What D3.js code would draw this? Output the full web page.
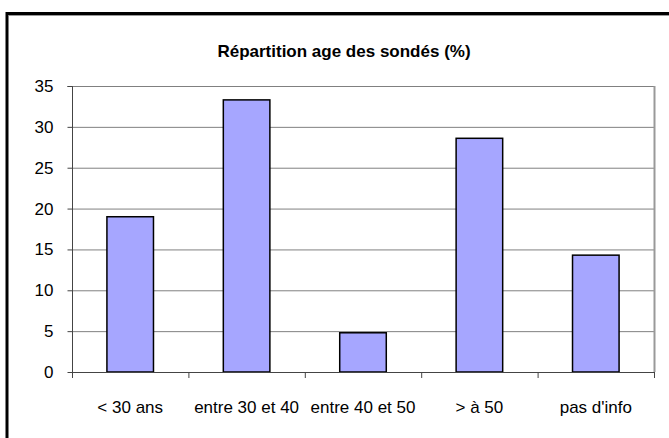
<!DOCTYPE html>
<html>
<head>
<meta charset="utf-8">
<script src="https://cdn.jsdelivr.net/npm/d3@7"></script>
<style>
  body { margin: 0; background: #fff; }
  text { font-family: "Liberation Sans", Arial, sans-serif; fill: #000; }
</style>
</head>
<body>
<div id="chart"></div>
<script>
const width = 669;
const height = 438;

const chartTitle = "Répartition age des sondés (%)";
const categories = ["< 30 ans", "entre 30 et 40", "entre 40 et 50", "> à 50", "pas d'info"];
const values = [19.0, 33.3, 4.8, 28.6, 14.3];
const yTicks = [0, 5, 10, 15, 20, 25, 30, 35];

const plot = { left: 72, right: 654, top: 86, bottom: 372 };

const svg = d3.select("#chart")
    .append("svg")
    .attr("width", width)
    .attr("height", height);

// outer frame (runs off the right and bottom edges)
svg.append("rect")
    .attr("x", 7)
    .attr("y", 13.5)
    .attr("width", 720)
    .attr("height", 500)
    .attr("fill", "none")
    .attr("stroke", "#000")
    .attr("stroke-width", 3);
svg.append("line")
    .attr("x1", 9).attr("x2", width)
    .attr("y1", 15.5).attr("y2", 15.5)
    .attr("stroke", "#999");

svg.append("text")
    .attr("x", 344)
    .attr("y", 57)
    .attr("text-anchor", "middle")
    .attr("font-size", 17)
    .attr("font-weight", "bold")
    .text(chartTitle);

const x = d3.scaleBand()
    .domain(categories)
    .range([plot.left, plot.right])
    .paddingInner(0.6)
    .paddingOuter(0.3);

const xBounds = d3.scaleBand()
    .domain(categories)
    .range([plot.left, plot.right]);

const y = d3.scaleLinear()
    .domain([0, 35])
    .range([plot.bottom, plot.top]);

// gridlines
svg.append("g")
    .selectAll("line")
    .data(yTicks.filter(d => d > 0))
    .enter().append("line")
    .attr("x1", plot.left)
    .attr("x2", plot.right)
    .attr("y1", d => y(d) + 0.5)
    .attr("y2", d => y(d) + 0.5)
    .attr("stroke", "#808080")
    .attr("stroke-width", 1);

// right border of plot area
svg.append("line")
    .attr("x1", plot.right + 0.5).attr("x2", plot.right + 0.5)
    .attr("y1", plot.top).attr("y2", plot.bottom)
    .attr("stroke", "#999")
    .attr("stroke-width", 2);

// bars
svg.append("g")
    .selectAll("rect")
    .data(values)
    .enter().append("rect")
    .attr("x", (d, i) => x(categories[i]))
    .attr("y", d => y(d))
    .attr("width", x.bandwidth())
    .attr("height", d => plot.bottom - y(d))
    .attr("fill", "#a6a6ff")
    .attr("stroke", "#000")
    .attr("stroke-width", 1.5);

// y axis
const yAxis = svg.append("g")
    .attr("transform", `translate(${plot.left + 0.5},0)`)
    .call(d3.axisLeft(y).tickValues(yTicks).tickSize(5).tickPadding(14));
yAxis.select(".domain").attr("stroke", "#444").attr("d", `M-5,${plot.top + 0.5}H0V${plot.bottom + 0.5}`);
yAxis.selectAll(".tick line").attr("stroke", "#444");
yAxis.selectAll(".tick text")
    .attr("font-size", 17)
    .attr("font-family", "Liberation Sans, Arial, sans-serif");
yAxis.selectAll(".tick").attr("transform", d => `translate(0,${y(d) + 0.5})`);

// x axis: tick marks at the category boundaries
const boundaries = categories.map(c => xBounds(c)).concat([plot.right]);
svg.append("line")
    .attr("x1", plot.left).attr("x2", plot.right + 1)
    .attr("y1", plot.bottom + 0.5).attr("y2", plot.bottom + 0.5)
    .attr("stroke", "#444");
svg.append("g")
    .selectAll("line")
    .data(boundaries)
    .enter().append("line")
    .attr("x1", d => d + 0.5).attr("x2", d => d + 0.5)
    .attr("y1", plot.bottom).attr("y2", plot.bottom + 6)
    .attr("stroke", "#444");

svg.append("g")
    .selectAll("text")
    .data(categories)
    .enter().append("text")
    .attr("x", d => xBounds(d) + xBounds.bandwidth() / 2)
    .attr("y", 413)
    .attr("text-anchor", "middle")
    .attr("font-size", 17)
    .text(d => d);
</script>
</body>
</html>
